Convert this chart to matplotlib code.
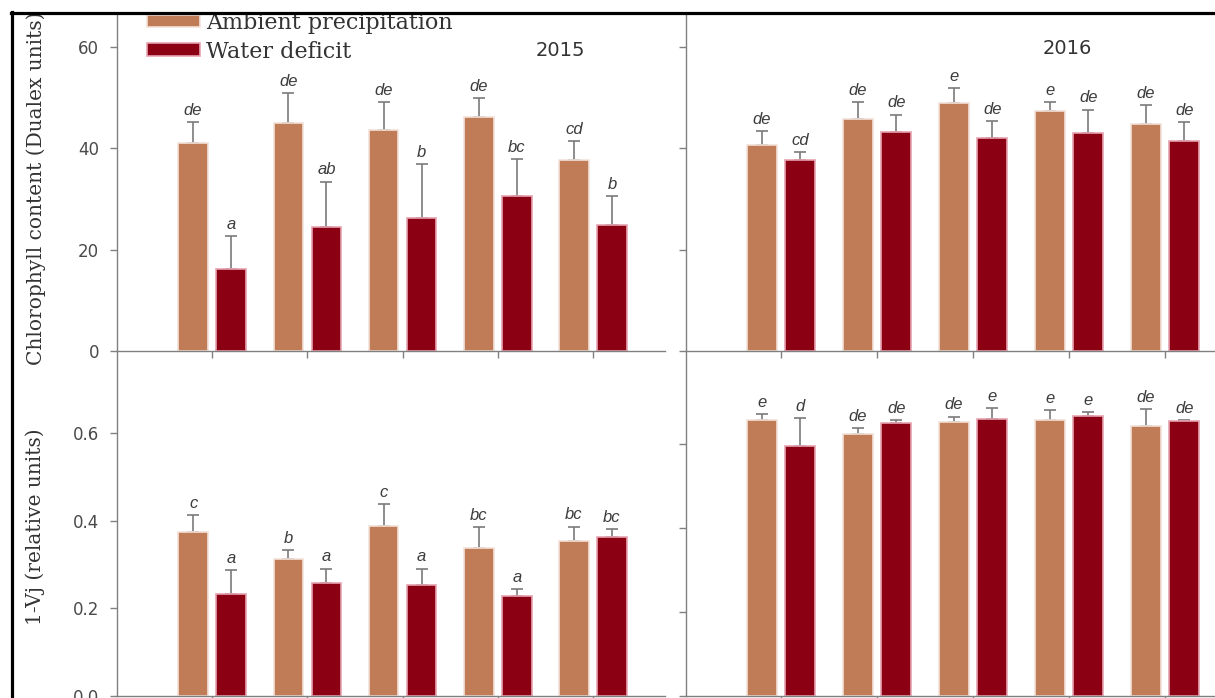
import matplotlib
matplotlib.use('Agg')
import matplotlib.pyplot as plt
from matplotlib.patches import Rectangle
from matplotlib.lines import Line2D
import numpy as np

# Five treatment groups per year
groups = [1, 2, 3, 4, 5]

# Chlorophyll content (Dualex units)
chl_2015_amb = [41.1, 45.0, 43.5, 46.1, 37.7]
chl_2015_amb_err = [4.1, 5.8, 5.5, 3.7, 3.7]
chl_2015_def = [16.1, 24.4, 26.2, 30.6, 24.9]
chl_2015_def_err = [6.6, 9.0, 10.7, 7.3, 5.7]
chl_2015_amb_let = ['de', 'de', 'de', 'de', 'cd']
chl_2015_def_let = ['a', 'ab', 'b', 'bc', 'b']

chl_2016_amb = [40.6, 45.8, 48.9, 47.3, 44.8]
chl_2016_amb_err = [2.7, 3.2, 3.0, 1.7, 3.7]
chl_2016_def = [37.7, 43.1, 42.0, 42.9, 41.5]
chl_2016_def_err = [1.5, 3.5, 3.4, 4.7, 3.6]
chl_2016_amb_let = ['de', 'de', 'e', 'e', 'de']
chl_2016_def_let = ['cd', 'de', 'de', 'de', 'de']

# 1-Vj (relative units)
vj_2015_amb = [0.374, 0.314, 0.388, 0.338, 0.354]
vj_2015_amb_err = [0.040, 0.019, 0.051, 0.048, 0.033]
vj_2015_def = [0.234, 0.258, 0.253, 0.228, 0.363]
vj_2015_def_err = [0.053, 0.033, 0.038, 0.016, 0.019]
vj_2015_amb_let = ['c', 'b', 'c', 'bc', 'bc']
vj_2015_def_let = ['a', 'a', 'a', 'a', 'bc']

vj_2016_amb = [0.657, 0.623, 0.653, 0.657, 0.642]
vj_2016_amb_err = [0.014, 0.014, 0.012, 0.023, 0.040]
vj_2016_def = [0.594, 0.650, 0.659, 0.667, 0.655]
vj_2016_def_err = [0.068, 0.006, 0.026, 0.009, 0.002]
vj_2016_amb_let = ['e', 'de', 'de', 'e', 'de']
vj_2016_def_let = ['d', 'de', 'e', 'e', 'de']

AMB_COLOR = '#c07c56'
DEF_COLOR = '#8c0014'
GREY = '#808080'

W, H = 1215, 698
fig = plt.figure(figsize=(W / 100, H / 100), dpi=100)


def px_axes(x0, y0, x1, y1):
    # axes box given in pixel coordinates (y measured from the top)
    return fig.add_axes([x0 / W, 1 - y1 / H, (x1 - x0) / W, (y1 - y0) / H])


def panel(ax, amb, amb_err, amb_let, dfc, dfc_err, dfc_let, xlim, ylim, yticks, ticklabels):
    x = np.array(groups)
    b1 = ax.bar(x - 0.2, amb, width=0.31, color=AMB_COLOR, edgecolor='#f2e2d8', linewidth=1.2, zorder=2)
    b2 = ax.bar(x + 0.2, dfc, width=0.31, color=DEF_COLOR, edgecolor='#e6a3b0', linewidth=1.2, zorder=2)
    # upper error bars only
    ax.errorbar(x - 0.2, amb, yerr=[np.zeros(5), amb_err], fmt='none', ecolor='#7a7a7a',
                elinewidth=1.2, capsize=4, capthick=1.2, zorder=1)
    ax.errorbar(x + 0.2, dfc, yerr=[np.zeros(5), dfc_err], fmt='none', ecolor='#7a7a7a',
                elinewidth=1.2, capsize=4, capthick=1.2, zorder=1)
    # significance letters
    for i in range(5):
        ax.annotate(amb_let[i], (x[i] - 0.2, amb[i] + amb_err[i]), xytext=(0, 3),
                    textcoords='offset points', ha='center', va='bottom',
                    fontsize=12, style='italic', family='Liberation Sans', color='#3c3c3c')
        ax.annotate(dfc_let[i], (x[i] + 0.2, dfc[i] + dfc_err[i]), xytext=(0, 3),
                    textcoords='offset points', ha='center', va='bottom',
                    fontsize=12, style='italic', family='Liberation Sans', color='#3c3c3c')
    ax.set_xlim(xlim)
    ax.set_ylim(ylim)
    ax.set_xticks(groups)
    ax.set_xticklabels([])
    ax.set_yticks(yticks)
    if ticklabels:
        ax.set_yticklabels(ticklabels)
    else:
        ax.set_yticklabels([])
    ax.spines['top'].set_visible(False)
    ax.spines['right'].set_visible(False)
    for s in ['left', 'bottom']:
        ax.spines[s].set_color(GREY)
        ax.spines[s].set_linewidth(1)
    ax.tick_params(direction='out', length=5, width=1, color=GREY, pad=8,
                   labelsize=12, labelcolor='#4a4a4a')
    ax.patch.set_alpha(0)
    return b1, b2


ax_tl = px_axes(117, 0, 665, 351)
ax_tr = px_axes(686, 0, 1215, 351)
ax_bl = px_axes(117, 351, 665, 696)
ax_br = px_axes(686, 351, 1215, 696)

bars = panel(ax_tl, chl_2015_amb, chl_2015_amb_err, chl_2015_amb_let,
             chl_2015_def, chl_2015_def_err, chl_2015_def_let,
             (0, 5.756), (0, 69.2), [0, 20, 40, 60], ['0', '20', '40', '60'])
panel(ax_tr, chl_2016_amb, chl_2016_amb_err, chl_2016_amb_let,
      chl_2016_def, chl_2016_def_err, chl_2016_def_let,
      (0.01, 5.52), (0, 69.2), [0, 20, 40, 60], None)
panel(ax_bl, vj_2015_amb, vj_2015_amb_err, vj_2015_amb_let,
      vj_2015_def, vj_2015_def_err, vj_2015_def_let,
      (0, 5.756), (0, 0.788), [0.0, 0.2, 0.4, 0.6], ['0.0', '0.2', '0.4', '0.6'])
panel(ax_br, vj_2016_amb, vj_2016_amb_err, vj_2016_amb_let,
      vj_2016_def, vj_2016_def_err, vj_2016_def_let,
      (0.01, 5.52), (0, 0.821), [0.0, 0.2, 0.4, 0.6], None)

# year titles
fig.text(560 / W, 1 - 50 / H, '2015', ha='center', va='center', fontsize=14,
         family='DejaVu Sans', color='#333333')
fig.text(1067 / W, 1 - 48 / H, '2016', ha='center', va='center', fontsize=14,
         family='DejaVu Sans', color='#333333')

# axis titles
fig.text(36 / W, 1 - 365 / H, 'Chlorophyll content (Dualex units)', rotation=90,
         ha='center', va='bottom', fontsize=14.5, family='DejaVu Serif', color='#333333')
fig.text(35 / W, 1 - 527 / H, '1-Vj (relative units)', rotation=90,
         ha='center', va='center', fontsize=14.5, family='DejaVu Serif', color='#333333')

# legend
leg = fig.legend(bars, ['Ambient precipitation', 'Water deficit'], loc='upper left',
                 bbox_to_anchor=(147 / W, 1 - 12 / H), frameon=False, borderpad=0,
                 borderaxespad=0, handlelength=2.4, handleheight=0.5, handletextpad=0.25,
                 labelspacing=0.3, prop={'family': 'DejaVu Serif', 'size': 16})
for t in leg.get_texts():
    t.set_color('#333333')

# frame of the figure: white margin plus black rule on top and left
fig.add_artist(Rectangle((0, 1 - 12 / H), 1, 12 / H, transform=fig.transFigure,
                         facecolor='white', edgecolor='none', zorder=20))
fig.add_artist(Rectangle((0, 0), 11 / W, 1, transform=fig.transFigure,
                         facecolor='white', edgecolor='none', zorder=20))
fig.add_artist(Line2D([12 / W, 12 / W], [0, 1 - 12 / H], transform=fig.transFigure,
                      color='black', linewidth=2.3, zorder=21))
fig.add_artist(Line2D([11 / W, 1], [1 - 13 / H, 1 - 13 / H], transform=fig.transFigure,
                      color='black', linewidth=2.3, zorder=21))

fig.savefig('out.png', dpi=100)
